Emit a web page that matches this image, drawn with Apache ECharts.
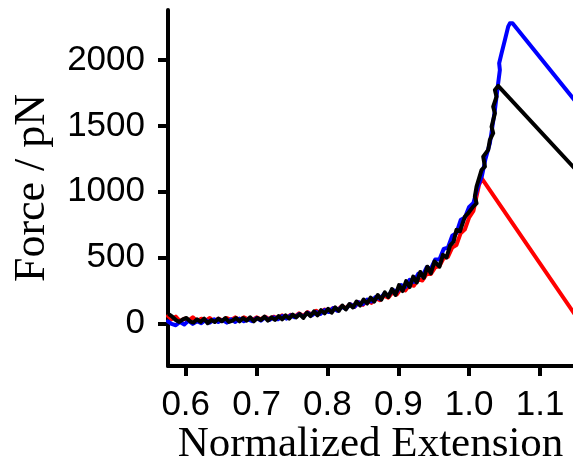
<!DOCTYPE html>
<html>
<head>
<meta charset="utf-8">
<script src="https://cdn.jsdelivr.net/npm/echarts@6/dist/echarts.min.js"></script>
<style>html,body{margin:0;padding:0;background:#fff}#c{width:573px;height:472px}</style>
</head>
<body>
<div id="c"></div>
<script>
var xTicks = [0.6, 0.7, 0.8, 0.9, 1.0, 1.1];
var yTicks = [0, 500, 1000, 1500, 2000];

var redX = [0.575,0.580,0.586,0.592,0.598,0.604,0.610,0.616,0.622,0.628,0.634,0.640,0.646,0.652,0.658,0.664,0.670,0.676,0.682,0.688,0.694,0.700,0.706,0.712,0.718,0.724,0.730,0.736,0.742,0.748,0.754,0.760,0.766,0.772,0.778,0.784,0.790,0.796,0.802,0.808,0.814,0.820,0.826,0.832,0.838,0.844,0.850,0.856,0.862,0.868,0.874,0.880,0.886,0.892,0.898,0.904,0.910,0.916,0.922,0.928,0.934,0.940,0.946,0.952,0.958,0.964,0.970,0.976,0.982,0.988,0.994,1.000,1.006,1.010,1.014,1.018,1.150];
var redF = [55,30,50,15,35,20,45,15,35,20,40,15,35,20,40,25,45,25,45,30,25,45,30,50,30,50,35,60,40,65,50,75,55,85,65,95,75,105,90,115,100,130,115,145,125,160,140,175,155,190,175,210,195,235,220,265,250,295,285,335,325,375,375,425,435,495,505,575,595,685,715,805,855,955,1055,1100,60];

var blueX = [0.575,0.580,0.586,0.592,0.598,0.604,0.610,0.616,0.622,0.628,0.634,0.640,0.646,0.652,0.658,0.664,0.670,0.676,0.682,0.688,0.694,0.700,0.706,0.712,0.718,0.724,0.730,0.736,0.742,0.748,0.754,0.760,0.766,0.772,0.778,0.784,0.790,0.796,0.802,0.808,0.814,0.820,0.826,0.832,0.838,0.844,0.850,0.856,0.862,0.868,0.874,0.880,0.886,0.892,0.898,0.904,0.910,0.916,0.922,0.928,0.934,0.940,0.946,0.952,0.958,0.964,0.970,0.976,0.982,0.988,0.994,1.000,1.006,1.012,1.018,1.023,1.0292,1.0363,1.0409,1.0433,1.0423,1.0457,1.0504,1.055,1.0574,1.0612,1.150];
var blueF = [15,-5,-15,10,-10,20,-5,15,0,25,5,30,10,25,5,30,10,35,15,30,15,40,20,45,25,45,30,55,35,60,45,70,50,80,60,85,70,100,85,115,95,125,110,145,125,160,145,180,165,200,185,225,210,255,240,290,275,330,315,375,360,425,415,485,485,565,575,665,685,785,805,885,915,1035,1120,1250,1369,1622,1825,1926,1977,2053,2154,2255,2281,2281,1688];

var blackX = [0.577,0.581,0.586,0.591,0.596,0.601,0.606,0.611,0.616,0.621,0.626,0.631,0.636,0.641,0.646,0.651,0.656,0.661,0.666,0.671,0.676,0.681,0.686,0.691,0.696,0.701,0.706,0.711,0.716,0.721,0.726,0.731,0.736,0.741,0.746,0.751,0.756,0.761,0.766,0.771,0.776,0.781,0.786,0.791,0.796,0.801,0.806,0.811,0.816,0.821,0.826,0.831,0.836,0.841,0.846,0.851,0.856,0.861,0.866,0.871,0.876,0.881,0.886,0.891,0.896,0.901,0.906,0.911,0.916,0.921,0.926,0.931,0.936,0.941,0.946,0.951,0.958,0.963,0.968,0.973,0.978,0.982,0.987,0.994,0.999,1.0056,1.0104,1.008,1.0104,1.0175,1.0222,1.0198,1.0268,1.0292,1.0339,1.0316,1.0363,1.0339,1.0386,1.0363,1.0409,1.150];
var blackF = [65,50,25,10,30,40,15,5,30,10,35,0,25,10,35,15,40,10,20,40,15,40,20,45,15,40,25,50,20,45,25,55,30,60,35,65,45,70,40,80,55,90,60,100,75,110,80,120,95,135,105,145,120,165,135,180,150,195,165,215,180,235,200,260,215,290,245,320,275,355,310,390,345,430,380,470,430,520,500,590,620,710,700,811,840,887,912,963,1039,1166,1191,1267,1318,1394,1445,1495,1597,1647,1723,1774,1805,1171];

function pairs(xs, ys) { return xs.map(function (x, i) { return [x, ys[i]]; }); }

function mkSeries(name, xs, ys, color) {
  return {
    name: name, type: 'line', data: pairs(xs, ys), showSymbol: false, symbol: 'none',
    lineStyle: { color: color, width: 4, join: 'round', cap: 'round' }, clip: true, animation: false, z: 2
  };
}

var chart = echarts.init(document.getElementById('c'), null, { renderer: 'canvas' });
chart.setOption({
  animation: false,
  backgroundColor: '#fff',
  grid: { left: 168, right: 0, top: 10, bottom: 106, containLabel: false },
  xAxis: {
    type: 'value', min: 0.575, max: 1.1465,
    name: 'Normalized Extension', nameLocation: 'middle', nameGap: 57, nameMoveOverlap: false,
    nameTextStyle: { fontFamily: 'Liberation Serif', fontSize: 43, color: '#000' },
    axisLine: { show: true, onZero: false, lineStyle: { color: '#000', width: 4 } },
    axisTick: { show: true, length: 10, customValues: xTicks, lineStyle: { color: '#000', width: 4 } },
    axisLabel: { customValues: xTicks, margin: 22, fontFamily: 'Liberation Sans', fontSize: 35, color: '#000',
      formatter: function (v) { return v.toFixed(1); } },
    splitLine: { show: false }
  },
  yAxis: {
    type: 'value', min: -325, max: 2382,
    name: 'Force / pN', nameLocation: 'middle', nameGap: 114, nameRotate: 90, nameMoveOverlap: false,
    nameTextStyle: { fontFamily: 'Liberation Serif', fontSize: 44, color: '#000' },
    axisLine: { show: true, onZero: false, lineStyle: { color: '#000', width: 4 } },
    axisTick: { show: true, length: 10, customValues: yTicks, lineStyle: { color: '#000', width: 4 } },
    axisLabel: { customValues: yTicks, margin: 23, fontFamily: 'Liberation Sans', fontSize: 35, color: '#000',
      formatter: function (v) { return String(v); } },
    splitLine: { show: false }
  },
  series: [
    mkSeries('red', redX, redF, '#ff0000'),
    mkSeries('blue', blueX, blueF, '#0000ff'),
    mkSeries('black', blackX, blackF, '#000000')
  ]
});
</script>
</body>
</html>
